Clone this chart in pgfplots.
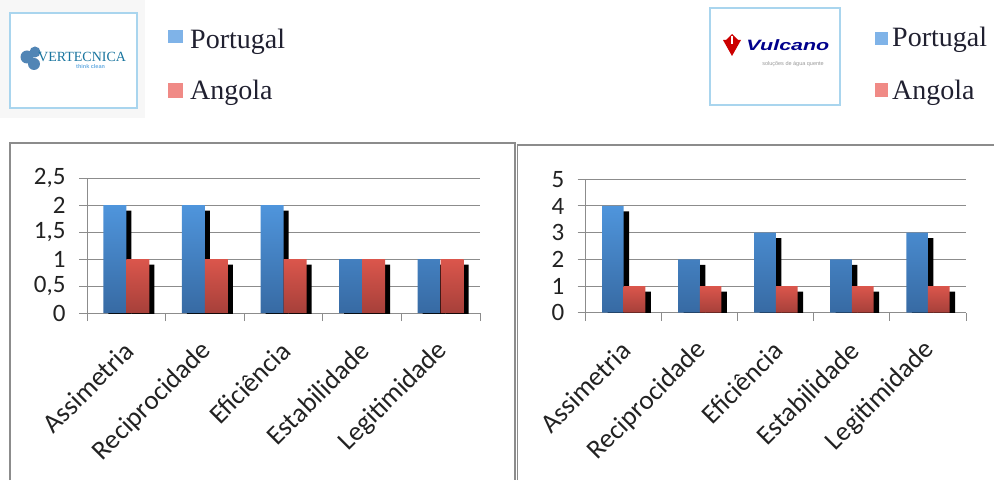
\documentclass[border=0pt]{standalone}
\usepackage{fontspec}
\setmainfont{Carlito}
\newfontfamily\legendfont{Liberation Serif}
\newfontfamily\logosans{Liberation Sans}
\usepackage{pgfplots}
\usepackage{pgfplotstable}
\pgfplotsset{compat=1.18}

\definecolor{gridgray}{HTML}{8C8C8C}
\definecolor{blueTop}{HTML}{4F95DC}
\definecolor{blueBot}{HTML}{376AA3}
\definecolor{redTop}{HTML}{DB564C}
\definecolor{redBot}{HTML}{A6403A}
\definecolor{legblue}{HTML}{7FB3E8}
\definecolor{legred}{HTML}{F08A86}
\definecolor{logoframe}{HTML}{A9D5EE}
\definecolor{txt}{HTML}{222222}
\definecolor{legtxt}{HTML}{202030}

% scores per criterion: Portugal (por) and Angola (ang)
\pgfplotstableread{
cat por ang
0 2 1
1 2 1
2 2 1
3 1 1
4 1 1
}\vertecnica
\pgfplotstableread{
cat por ang
0 4 1
1 2 1
2 3 1
3 2 1
4 3 1
}\vulcano

\pgfplotsset{
  excelbars/.style={
    scale only axis,
    anchor=south west,
    axis x line*=bottom, axis y line*=left,
    axis line style={gridgray, line width=1pt},
    ymajorgrids, grid style={gridgray, line width=1pt},
    tick align=outside,
    major tick length=8pt,
    tick style={gridgray, line width=1pt},
    xmin=-0.5, xmax=4.5, ymin=0,
    xtick={-0.5,0.5,1.5,2.5,3.5,4.5}, xticklabels={,,,,,},
    extra x ticks={0,1,2,3,4},
    extra x tick labels={Assimetria,Reciprocidade,Eficiência,Estabilidade,Legitimidade},
    extra x tick style={major tick length=0pt,
      xticklabel style={xshift=5pt, yshift=-31pt, rotate=45, anchor=east,
        font=\fontsize{27}{30}\selectfont}},
    ticklabel style={font=\fontsize{25}{30}\selectfont, text=txt},
    yticklabel style={xshift=-10pt},
    /pgf/number format/use comma,
    /pgf/number format/assume math mode=true,
    clip=true,
  },
}

\begin{document}
\begin{tikzpicture}[x=1pt, y=1pt]
\useasboundingbox (0,0) rectangle (994,480);

% ---------- header: logos and legends ----------
\fill[black!3] (0,362) rectangle (145,480);
\draw[logoframe, line width=2.5pt, fill=white] (10,372) rectangle (137,467);
\fill[blue!40!black!70!cyan!80, opacity=0.85] (27,423) circle (6.5) (35,428) circle (5.5) (34,416) circle (6);
\node[anchor=west, inner sep=0, text=blue!30!black!60!cyan!90] at (38,423)
  {\legendfont\fontsize{14}{14}\selectfont VERTECNICA};
\node[anchor=west, inner sep=0, text=cyan!70!blue!60] at (76,413)
  {\logosans\bfseries\fontsize{5.5}{6}\selectfont think clean};

\fill[legblue] (168,437) rectangle (183,450);
\fill[legred] (168,382) rectangle (183,397);
\node[anchor=base west, inner sep=0, text=legtxt] at (190,431) {\legendfont\fontsize{28}{30}\selectfont Portugal};
\node[anchor=base west, inner sep=0, text=legtxt] at (190,380) {\legendfont\fontsize{28}{30}\selectfont Angola};

\draw[logoframe, line width=2.5pt, fill=white] (710,375) rectangle (840,472);
\fill[red!80!black] (723,440) -- (741,440) -- (732,424) -- cycle;
\fill[red!80!black] (732,446) -- (738,440) -- (732,434) -- (726,440) -- cycle;
\fill[white] (731,436) rectangle (733,444);
\node[anchor=west, inner sep=0, text=blue!55!black, xscale=1.43] at (746,435)
  {\logosans\bfseries\itshape\fontsize{15}{15}\selectfont Vulcano};
\node[anchor=center, inner sep=0, text=black!40] at (793,416)
  {\logosans\fontsize{5.5}{6}\selectfont soluções de água quente};

\fill[legblue] (875,435) rectangle (888,448);
\fill[legred] (875,383) rectangle (888,397);
\node[anchor=base west, inner sep=0, text=legtxt] at (892,433) {\legendfont\fontsize{28}{30}\selectfont Portugal};
\node[anchor=base west, inner sep=0, text=legtxt] at (892,380) {\legendfont\fontsize{28}{30}\selectfont Angola};

% ---------- panel frames ----------
\draw[gridgray, line width=1.2pt] (10,0) -- (10,337) -- (515,337) -- (515,0);
\draw[gridgray, line width=1.2pt] (517.5,0) -- (517.5,335) -- (994,335);

% ---------- left chart ----------
\begin{axis}[excelbars, at={(87pt,167pt)}, width=393pt, height=135pt,
  ymax=2.5, ytick={0,0.5,1,1.5,2,2.5}]
  \addplot[ybar, bar width=23pt, bar shift=-6.5pt, yshift=-5.5pt, fill=black, draw=none] table[x=cat, y=por] {\vertecnica};
  \addplot[ybar, bar width=23pt, bar shift=-11.5pt, top color=blueTop, bottom color=blueBot, draw=none] table[x=cat, y=por] {\vertecnica};
  \addplot[ybar, bar width=23pt, bar shift=16.5pt, yshift=-5.5pt, fill=black, draw=none] table[x=cat, y=ang] {\vertecnica};
  \addplot[ybar, bar width=23pt, bar shift=11.5pt, top color=redTop, bottom color=redBot, draw=none] table[x=cat, y=ang] {\vertecnica};
\end{axis}

% ---------- right chart ----------
\begin{axis}[excelbars, at={(585.7pt,167.3pt)}, width=380.3pt, height=133.4pt,
  ymax=5, ytick={0,1,2,3,4,5}]
  \addplot[ybar, bar width=21.7pt, bar shift=-5.35pt, yshift=-5.5pt, fill=black, draw=none] table[x=cat, y=por] {\vulcano};
  \addplot[ybar, bar width=21.7pt, bar shift=-10.85pt, top color=blueTop, bottom color=blueBot, draw=none] table[x=cat, y=por] {\vulcano};
  \addplot[ybar, bar width=21.7pt, bar shift=16.35pt, yshift=-5.5pt, fill=black, draw=none] table[x=cat, y=ang] {\vulcano};
  \addplot[ybar, bar width=21.7pt, bar shift=10.85pt, top color=redTop, bottom color=redBot, draw=none] table[x=cat, y=ang] {\vulcano};
\end{axis}
\end{tikzpicture}
\end{document}
